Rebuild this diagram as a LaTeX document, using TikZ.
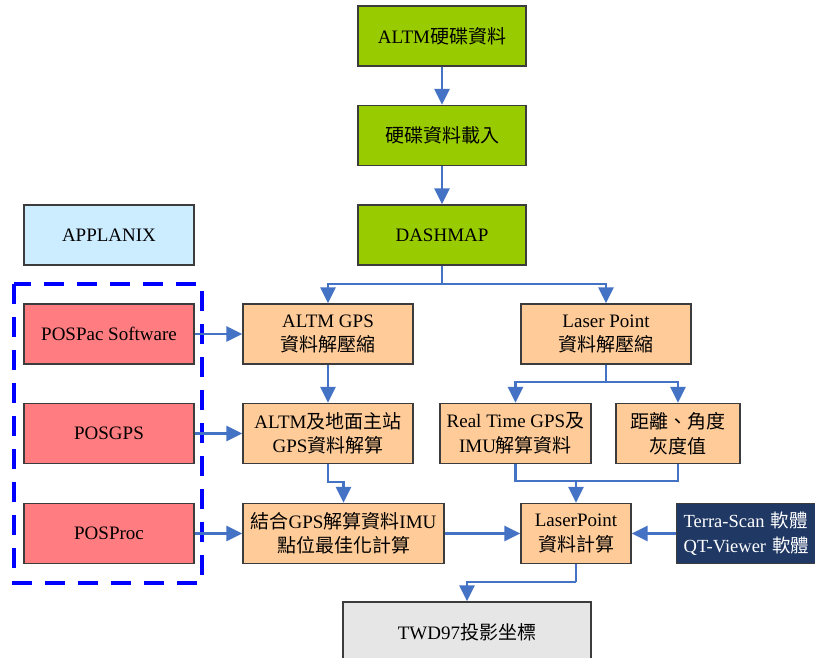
\documentclass[tikz,border=0pt]{standalone}
\usepackage{fontspec}
\setmainfont{Liberation Serif}
\newfontfamily\cjk{Noto Sans CJK TC}
\usetikzlibrary{arrows.meta}
\newcommand\zh[1]{{\cjk #1}}

\definecolor{boxline}{HTML}{3C3C3C}
\definecolor{flowblue}{HTML}{4472C4}
\definecolor{dashblue}{HTML}{0000FF}
\definecolor{fgreen}{HTML}{99CC00}
\definecolor{forange}{HTML}{FFCC99}
\definecolor{fpink}{HTML}{FF7C80}
\definecolor{fsky}{HTML}{CCECFF}
\definecolor{fnavy}{HTML}{1F3864}
\definecolor{fgrey}{HTML}{E6E6E6}

\begin{document}
\begin{tikzpicture}[x=1pt,y=-1pt,
  box/.style={draw=boxline, line width=1.3pt, rectangle, inner sep=2pt,
    align=center, text=black, font=\fontsize{19}{24.5}\selectfont,
    minimum height=60pt},
  flow/.style={draw=flowblue, line width=2.6pt,
    -{Triangle[length=16pt,width=15pt]}},
  link/.style={draw=flowblue, line width=2.6pt},
  dashbox/.style={draw=dashblue, line width=4pt, dash pattern=on 20pt off 13pt}
]
\useasboundingbox (0,0) rectangle (815,658);
\clip (0,0) rectangle (815,658);
\fill[white] (0,0) rectangle (815,658);

% top chain
\node[box, fill=fgreen, minimum width=168pt] (g1) at (442,36) {ALTM\zh{硬碟資料}};
\node[box, fill=fgreen, minimum width=168pt] (g2) at (442,135.5) {\zh{硬碟資料載入}};
\node[box, fill=fgreen, minimum width=168pt] (g3) at (442,235) {DASHMAP};

% APPLANIX column
\node[box, fill=fsky, minimum width=170pt] (apx) at (109,235) {APPLANIX};
\node[box, fill=fpink, minimum width=170pt] (pospac) at (109,334) {POSPac Software};
\node[box, fill=fpink, minimum width=170pt] (posgps) at (109,433.5) {POSGPS};
\node[box, fill=fpink, minimum width=170pt] (posproc) at (109,533.5) {POSProc};
\draw[dashbox] (14,284) rectangle (202,583);

% GPS branch
\node[box, fill=forange, minimum width=170pt] (o1) at (328,334) {ALTM GPS\\\zh{資料解壓縮}};
\node[box, fill=forange, minimum width=170pt] (o2) at (328,433.5) {ALTM\zh{及地面主站}\\GPS\zh{資料解算}};
\node[box, fill=forange, minimum width=201pt] (o3) at (343.5,533.5) {\zh{結合}GPS\zh{解算資料}IMU\\\zh{點位最佳化計算}};

% laser branch
\node[box, fill=forange, minimum width=170pt] (lp1) at (606,334) {Laser Point\\\zh{資料解壓縮}};
\node[box, fill=forange, minimum width=151pt] (rt) at (515.5,433.5) {Real Time GPS\zh{及}\\IMU\zh{解算資料}};
\node[box, fill=forange, minimum width=124pt] (dist) at (678,433.5) {\zh{距離、角度}\\\zh{灰度值}};
\node[box, fill=forange, minimum width=110pt] (lp2) at (576,533.5) {LaserPoint\\\zh{資料計算}};
\node[box, fill=fnavy, text=white, anchor=west, align=left, text width=170pt,
  inner xsep=7pt, font=\fontsize{18.5}{24.5}\selectfont] (terra) at (676,533.5)
  {Terra-Scan \zh{軟體}\\QT-Viewer \zh{軟體}};
\node[box, fill=fgrey, minimum width=248pt] (twd) at (467,632) {TWD97\zh{投影坐標}};

% connectors
\draw[flow] (g1) -- (g2);
\draw[flow] (g2) -- (g3);
\coordinate (j1) at (442,284);
\draw[link] (g3.south) -- (j1);
\draw[flow] (j1) -| (o1.north);
\draw[flow] (j1) -| (lp1.north);

\draw[flow] (pospac) -- (o1);
\draw[flow] (posgps) -- (o2);
\draw[flow] (posproc) -- (o3);

\draw[flow] (o1) -- (o2);
\coordinate (j2) at (328,482);
\draw[flow] (o2.south) -- (j2) -| (o3.north);

\coordinate (j3) at (606,382);
\draw[link] (lp1.south) -- (j3);
\draw[flow] (j3) -| (rt.north);
\draw[flow] (j3) -| (dist.north);

\coordinate (j4) at (576,481);
\draw[link] (rt.south) |- (j4);
\draw[link] (dist.south) |- (j4);
\draw[flow] (j4) -- (lp2.north);

\draw[flow] (o3.east) -- (lp2.west);
\draw[flow] (terra.west) -- (lp2.east);

\coordinate (j5) at (576,582);
\draw[link] (lp2.south) -- (j5);
\draw[flow] (j5) -| (twd.north);
\end{tikzpicture}
\end{document}
